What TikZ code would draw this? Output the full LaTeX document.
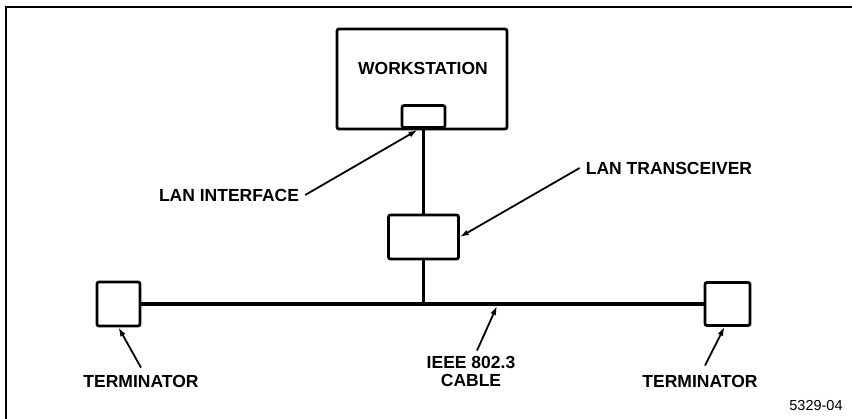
\documentclass[tikz,border=0pt]{standalone}
\usepackage{fontspec}
\setmainfont{Liberation Sans}
\usetikzlibrary{arrows.meta,positioning}
\newcommand{\lblfont}{\fontsize{17.5}{18}\selectfont\bfseries}

\begin{document}
\begin{tikzpicture}[x=1pt, y=-1pt,
    unitbox/.style={rectangle, rounded corners=2pt, draw=black, line width=2.8pt,
                    inner sep=0pt},
    lbl/.style={font=\lblfont, inner sep=1pt, align=center},
    arr/.style={-{Latex[length=9pt,width=6pt]}, line width=1.8pt},
    wire/.style={line width=2.1pt},
    cable/.style={line width=3.6pt}
]
\useasboundingbox (0,0) rectangle (852,419);
\draw[line width=2.8pt] (6,419) -- (6,7) -- (852,7);

\node[unitbox, minimum width=170pt, minimum height=100pt] (ws) at (422,79) {};
\node[lbl] (wstxt) at (423,68) {WORKSTATION};
\node[unitbox, minimum width=43pt, minimum height=22pt, anchor=south] (lanif) at (423.5,129) {};
\node[unitbox, minimum width=70pt, minimum height=44pt] (xcvr) at (423.5,237) {};
\node[unitbox, minimum width=43pt, minimum height=44pt] (termL) at (118.5,304) {};
\node[unitbox, minimum width=45pt, minimum height=43pt] (termR) at (727.5,304) {};
\coordinate (cabpt) at (497,306);

% connections
\draw[wire] (lanif.south) -- (xcvr.north);
\draw[cable] (termL.east) -- (termR.west);
\draw[wire] (xcvr.south) -- (xcvr.south |- termL.east);

% labels
\node[lbl] (ifl) at (229,195) {LAN INTERFACE};
\node[lbl] (xcl) at (669,168) {LAN TRANSCEIVER};
\node[lbl] (cbl) at (471,371) {IEEE 802.3\\CABLE};
\node[lbl] (tll) at (141,381) {TERMINATOR};
\node[lbl] (trl) at (700,381) {TERMINATOR};
\node[lbl, font=\fontsize{14.5}{16}\selectfont] (fig) at (816,406) {5329-04};

\draw[arr] ([xshift=5pt]ifl.east) -- ([xshift=-6pt,yshift=-1pt]lanif.south);
\draw[arr] ([xshift=-5pt]xcl.west) -- (xcvr.east);
\draw[arr] ([xshift=6pt,yshift=4pt]cbl.north) -- (cabpt);
\draw[arr] ([yshift=6pt]tll.north) -- (termL.south);
\draw[arr] ([xshift=5pt,yshift=8pt]trl.north) -- ([xshift=-3pt]termR.south);
\end{tikzpicture}
\end{document}
